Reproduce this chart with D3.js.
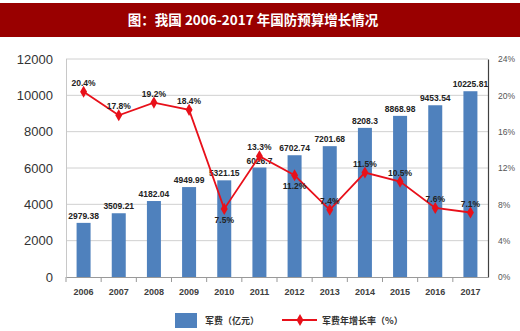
<!DOCTYPE html>
<html><head><meta charset="utf-8">
<script src="https://cdn.jsdelivr.net/npm/d3@7"></script>
<style>body{margin:0;background:#fff;}svg{display:block;font-family:"Liberation Sans",Arial,"Noto Sans CJK SC",sans-serif;}</style>
</head><body>
<svg id="c" width="520" height="331"></svg>
<script>
const years = ["2006","2007","2008","2009","2010","2011","2012","2013","2014","2015","2016","2017"];
const spending = [2979.38,3509.21,4182.04,4949.99,5321.15,6026.7,6702.74,7201.68,8208.3,8868.98,9453.54,10225.81];
const spendingLabels = ["2979.38","3509.21","4182.04","4949.99","5321.15","6026.7","6702.74","7201.68","8208.3","8868.98","9453.54","10225.81"];
const growth = [20.4,17.8,19.2,18.4,7.5,13.3,11.2,7.4,11.5,10.5,7.6,7.1];
const growthBelow = [false,false,false,false,true,false,true,false,false,false,false,false];
const leftTicks = [0,2000,4000,6000,8000,10000,12000];
const rightTicks = [0,4,8,12,16,20,24];
const title = "图：我国 2006-2017 年国防预算增长情况";
const legendBar = "军费（亿元）";
const legendLine = "军费年增长率（%）";

const svg = d3.select("#c");
const L = 66, R = 488, T = 59, B = 277;
const x = d3.scaleBand().domain(years).range([L, R]).padding(0);
const yL = d3.scaleLinear().domain([0,12000]).range([B,T]);
const yR = d3.scaleLinear().domain([0,24]).range([B,T]);

// title bar
svg.append("rect").attr("x",0).attr("y",3).attr("width",520).attr("height",34).attr("fill","#990000");
svg.append("text").attr("x",253).attr("y",25).attr("text-anchor","middle").attr("fill","#fff")
  .attr("font-size",13.5).attr("font-weight","bold").attr("font-family","'Noto Sans CJK SC','Liberation Sans',sans-serif").text(title);

// gridlines
svg.append("g").selectAll("line").data(leftTicks.filter(d=>d>0)).join("line")
  .attr("x1",L).attr("x2",R).attr("y1",d=>yL(d)).attr("y2",d=>yL(d))
  .attr("stroke","#d0d0d0").attr("stroke-width",1);
// left frame line
svg.append("line").attr("x1",L+0.5).attr("x2",L+0.5).attr("y1",T).attr("y2",B).attr("stroke","#c8c8c8");

// left axis
const gl = svg.append("g").attr("transform",`translate(${L},0)`)
  .call(d3.axisLeft(yL).tickValues(leftTicks).tickSize(0).tickPadding(13).tickFormat(d3.format("d")));
gl.select(".domain").remove();
gl.selectAll("text").attr("font-size",13).attr("fill","#333").attr("font-family","'Liberation Sans',Arial,sans-serif");

// right axis
const gr = svg.append("g").attr("transform",`translate(${R},0)`)
  .call(d3.axisRight(yR).tickValues(rightTicks).tickSize(0).tickPadding(10).tickFormat(d=>d+"%"));
gr.select(".domain").attr("stroke","#404040").attr("stroke-width",1.2);
gr.selectAll("text").attr("font-size",8.5).attr("fill","#555");

// x axis
const gx = svg.append("g").attr("transform",`translate(0,${B})`)
  .call(d3.axisBottom(x).tickSize(0).tickPadding(12));
gx.select(".domain").attr("stroke","#999");
gx.selectAll("text").attr("font-size",9).attr("fill","#404040").attr("font-weight","bold");
// category separator ticks
svg.append("g").selectAll("line").data(years).join("line")
  .attr("x1",d=>x(d)).attr("x2",d=>x(d)).attr("y1",B).attr("y2",B+5).attr("stroke","#999");

// bars
const bw = 14;
svg.append("g").selectAll("rect").data(years).join("rect")
  .attr("x",d=>x(d)+x.bandwidth()/2-bw/2).attr("width",bw)
  .attr("y",(d,i)=>yL(spending[i])).attr("height",(d,i)=>B-yL(spending[i]))
  .attr("fill","#4f81bd");
svg.append("g").selectAll("text").data(years).join("text")
  .attr("x",d=>x(d)+x.bandwidth()/2).attr("y",(d,i)=>yL(spending[i])-4)
  .attr("text-anchor","middle").attr("font-size",8.5).attr("font-weight","bold").attr("fill","#222")
  .text((d,i)=>spendingLabels[i]);

// line
const line = d3.line().x((d,i)=>x(years[i])+x.bandwidth()/2).y(d=>yR(d));
svg.append("path").datum(growth).attr("d",line).attr("fill","none").attr("stroke","#e8101a").attr("stroke-width",1.8);
const diamond = d3.symbol().type(d3.symbolDiamond).size(42);
svg.append("g").selectAll("path").data(growth).join("path")
  .attr("d",diamond).attr("transform",(d,i)=>`translate(${x(years[i])+x.bandwidth()/2},${yR(d)})`)
  .attr("fill","#e8101a");
svg.append("g").selectAll("text").data(growth).join("text")
  .attr("x",(d,i)=>x(years[i])+x.bandwidth()/2).attr("y",(d,i)=>growthBelow[i]?yR(d)+14:yR(d)-6)
  .attr("text-anchor","middle").attr("font-size",8.5).attr("font-weight","bold").attr("fill","#222")
  .text(d=>d.toFixed(1)+"%");

// legend
svg.append("rect").attr("x",175).attr("y",313).attr("width",22).attr("height",15).attr("fill","#4f81bd");
svg.append("text").attr("x",205).attr("y",324).attr("font-size",9).attr("font-weight","bold").attr("fill","#333")
  .attr("font-family","'Noto Sans CJK SC',sans-serif").text(legendBar);
svg.append("line").attr("x1",282).attr("x2",317).attr("y1",320).attr("y2",320).attr("stroke","#e8101a").attr("stroke-width",1.8);
svg.append("path").attr("d",diamond).attr("transform","translate(300,320)").attr("fill","#e8101a");
svg.append("text").attr("x",322).attr("y",324).attr("font-size",9).attr("font-weight","bold").attr("fill","#333")
  .attr("font-family","'Noto Sans CJK SC',sans-serif").text(legendLine);
</script>
</body></html>
